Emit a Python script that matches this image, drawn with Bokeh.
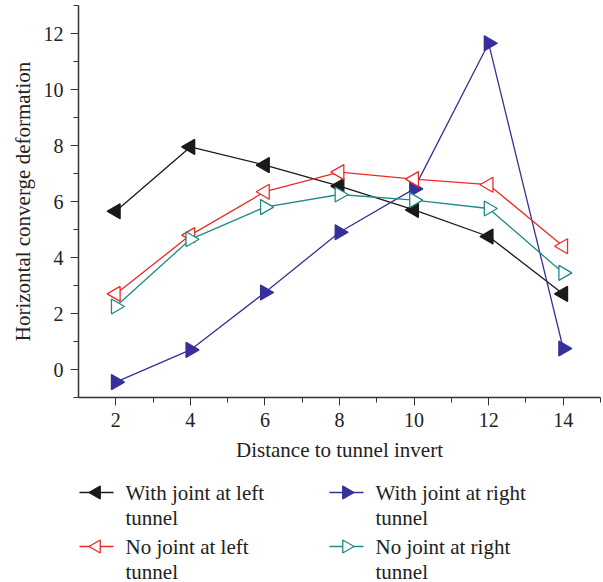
import numpy as np
from bokeh.plotting import figure
from bokeh.layouts import column
from bokeh.models import Range1d, FixedTicker
from bokeh.embed import file_html
from bokeh.resources import INLINE

x = [2, 4, 6, 8, 10, 12, 14]
with_left = [5.65, 7.95, 7.3, 6.55, 5.7, 4.75, 2.7]
with_right = [-0.45, 0.7, 2.75, 4.9, 6.45, 11.65, 0.75]
no_left = [2.7, 4.8, 6.35, 7.05, 6.8, 6.6, 4.4]
no_right = [2.25, 4.65, 5.8, 6.25, 6.05, 5.75, 3.45]

labels = ["With joint at left\ntunnel", "With joint at right\ntunnel",
          "No joint at left\ntunnel", "No joint at right\ntunnel"]
x_ticks = [2, 4, 6, 8, 10, 12, 14]
y_ticks = [0, 2, 4, 6, 8, 10, 12]

FONT = "Liberation Serif"
TXT = "#222222"

p = figure(width=603, height=470, output_backend="svg", toolbar_location=None,
           x_range=Range1d(1, 15), y_range=Range1d(-1, 13),
           min_border_left=78, min_border_right=3, min_border_top=5, min_border_bottom=73)
p.outline_line_color = None
p.xgrid.visible = False
p.ygrid.visible = False

for ax, ticks in ((p.xaxis[0], x_ticks), (p.yaxis[0], y_ticks)):
    ax.ticker = FixedTicker(ticks=ticks, minor_ticks=[t + 1 for t in [-2] + ticks])
    ax.axis_line_color = "#333333"
    ax.axis_line_width = 1.5
    ax.major_tick_line_color = "#333333"
    ax.minor_tick_line_color = "#333333"
    ax.major_tick_out = 8
    ax.major_tick_in = 0
    ax.minor_tick_out = 5
    ax.minor_tick_in = 0
    ax.major_label_text_font = FONT
    ax.major_label_text_font_size = "20px"
    ax.major_label_text_color = TXT
    ax.axis_label_text_font = FONT
    ax.axis_label_text_font_size = "21px"
    ax.axis_label_text_font_style = "normal"
    ax.axis_label_text_color = TXT

p.xaxis.axis_label = "Distance to tunnel invert"
p.yaxis.axis_label = "Horizontal converge deformation"
p.xaxis.major_label_standoff = 7
p.yaxis.major_label_standoff = 7
p.xaxis.axis_label_standoff = 8
p.yaxis.axis_label_standoff = 6

series = [
    (with_left, "#1a1a1a", np.pi / 2, "#1a1a1a"),
    (with_right, "#38309a", -np.pi / 2, "#38309a"),
    (no_left, "#ee2a24", np.pi / 2, "white"),
    (no_right, "#1f8b86", -np.pi / 2, "white"),
]
for ys, col, ang, fill in series:
    p.line(x, ys, line_color=col, line_width=1.3)
    p.scatter(x, ys, marker="triangle", size=15, angle=ang,
              line_color=col, fill_color=fill, line_width=1.3)

# legend panel: its frame is aligned with the main frame (x 78..600), units = pixels
lg = figure(width=603, height=112, output_backend="svg", toolbar_location=None,
            x_range=Range1d(78, 600), y_range=Range1d(112, 0),
            min_border=0)
lg.axis.visible = False
lg.grid.visible = False
lg.outline_line_color = None
col_x = [79, 329, 79, 329]
row_y = [22, 22, 76, 76]
for (ys, col, ang, fill), lab, cx, ry in zip(series, labels, col_x, row_y):
    lg.line([cx, cx + 34], [ry, ry], line_color=col, line_width=1.3)
    lg.scatter([cx + 17], [ry], marker="triangle", size=13, angle=ang,
               line_color=col, fill_color=fill, line_width=1.3)
    lines = lab.split("\n")
    lg.text([cx + 46] * len(lines), [ry + 25 * i for i in range(len(lines))], text=lines,
            text_font={"value": FONT}, text_font_size="21px", text_color=TXT,
            text_baseline="middle", text_align="left")

open("out.html", "w").write(file_html(column(p, lg, spacing=0), INLINE))
